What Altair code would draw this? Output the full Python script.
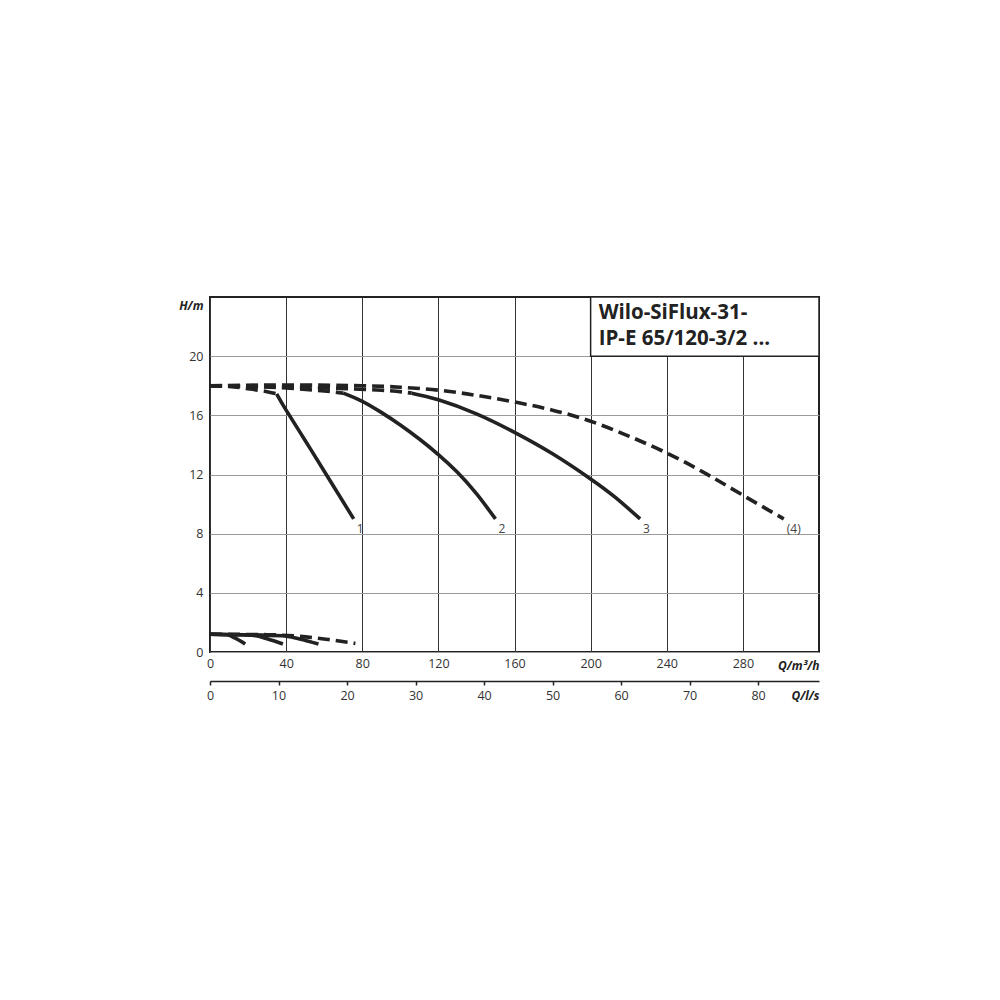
import altair as alt
import pandas as pd

# ---------------- data ----------------
# upper pump curves: Q in m3/h, H in m
q1_dash = [0, 10, 20, 30, 35]
h1_dash = [18.0, 17.95, 17.8, 17.6, 17.45]
q1 = [35, 40, 50, 60.6, 75.5]
h1 = [17.45, 16.35, 14.3, 12.1, 9.0]

q2_dash = [0, 20, 40, 60, 70]
h2_dash = [18.0, 17.95, 17.85, 17.65, 17.5]
q2 = [70, 80, 90, 100, 110, 120, 130, 140, 150]
h2 = [17.5, 16.95, 16.2, 15.35, 14.4, 13.35, 12.15, 10.7, 9.0]

q3_dash = [0, 30, 60, 90, 106]
h3_dash = [18.0, 17.95, 17.85, 17.7, 17.5]
q3 = [106, 120, 140, 160, 180, 200, 213, 226]
h3 = [17.5, 17.05, 16.1, 14.85, 13.4, 11.7, 10.45, 9.0]

q4 = [0, 40, 80, 100, 120, 140, 160, 180, 200, 220, 240, 260, 280, 301.5]
h4 = [18.0, 18.05, 18.0, 17.9, 17.7, 17.35, 16.9, 16.35, 15.6, 14.6, 13.45, 12.1, 10.6, 9.0]

# lower curves
ql1 = [0, 9, 13, 18.5]
hl1 = [1.2, 1.17, 0.95, 0.54]
ql2 = [0, 22, 30, 38.3]
hl2 = [1.2, 1.13, 0.9, 0.54]
ql3 = [0, 38, 47, 57]
hl3 = [1.2, 1.1, 0.88, 0.54]
ql4 = [0, 30, 47, 62, 76.4]
hl4 = [1.2, 1.17, 1.06, 0.85, 0.58]

curve_labels = ["1", "2", "3", "(4)"]

q_ticks = [0, 40, 80, 120, 160, 200, 240, 280]
ls_ticks = [0, 10, 20, 30, 40, 50, 60, 70, 80]
h_ticks = [0, 4, 8, 12, 16, 20]
q_max = 320
h_max = 24

title_lines = ["Wilo-SiFlux-31-", "IP-E 65/120-3/2 ..."]
box_q = [200, 320]
box_h = [20, 24]

# ---------------- tables ----------------
def table(specs):
    rows = []
    for name, qs, hs in specs:
        for i, (q, h) in enumerate(zip(qs, hs)):
            rows.append({"curve": name, "i": i, "Q": q, "H": h})
    return pd.DataFrame(rows)

upper_solid_df = table([("1", q1, h1), ("2", q2, h2), ("3", q3, h3)])
lower_solid_df = table([("l1", ql1, hl1), ("l2", ql2, hl2), ("l3", ql3, hl3)])
upper_dash_df = table([("1d", q1_dash, h1_dash), ("2d", q2_dash, h2_dash),
                       ("3d", q3_dash, h3_dash), ("4", q4, h4)])
lower_dash_df = table([("l4", ql4, hl4)])
label_df = pd.DataFrame({
    "label": curve_labels,
    "Q": [q1[-1], q2[-1], q3[-1], q4[-1]],
    "H": [h1[-1], h2[-1], h3[-1], h4[-1]],
})
box_df = pd.DataFrame({"Q": [box_q[0]], "q1": [box_q[1]],
                       "H": [box_h[0]], "h1": [box_h[1]]})
title_df = pd.DataFrame({"Q": [box_q[0]], "H": [box_h[1]],
                         "txt": ["\n".join(title_lines)]})
ls_df = pd.DataFrame({"Qls": ls_ticks})

FONT = "Open Sans"
W, H = 609, 355
INK = "#222222"

x_scale = alt.Scale(domain=[0, q_max], nice=False, zero=True)
y_scale = alt.Scale(domain=[0, h_max], nice=False, zero=True)

x_axis = alt.Axis(values=q_ticks, grid=True, gridColor="#333333", gridWidth=1,
                  domain=False, ticks=False, labelFontSize=12.5, labelColor="#333333",
                  labelFont=FONT, labelPadding=5, labelFlush=False,
                  title="Q/m³/h", titleFont=FONT, titleFontSize=12, titleFontStyle="italic",
                  titleFontWeight="bold", titleColor=INK, titleAlign="right",
                  titleBaseline="middle", titleX=W, titleY=13)
y_axis = alt.Axis(values=h_ticks, grid=True, gridColor="#9a9a9a", gridWidth=1.2,
                  domain=False, ticks=False, labelFontSize=12.5, labelColor="#333333",
                  labelFont=FONT, labelPadding=7, labelFlush=False,
                  title="H/m", titleFont=FONT, titleFontSize=12, titleFontStyle="italic",
                  titleFontWeight="bold", titleColor=INK, titleAngle=0, titleAlign="right",
                  titleBaseline="middle", titleX=-7, titleY=8)

X = alt.X("Q:Q", scale=x_scale, axis=x_axis)
Xn = alt.X("Q:Q", scale=x_scale, axis=None)
Y = alt.Y("H:Q", scale=y_scale, axis=y_axis)

def line(df, x_enc, dashed, interp):
    kw = dict(strokeWidth=3.6, color=INK, strokeCap="butt", strokeJoin="round",
              interpolate=interp)
    if dashed:
        kw["strokeDash"] = [12, 6]
    return alt.Chart(df).mark_line(**kw).encode(
        x=x_enc, y=Y, detail="curve:N", order="i:Q")

solid = line(upper_solid_df, X, False, "natural")
solid_low = line(lower_solid_df, Xn, False, "monotone")
dashed = line(upper_dash_df, Xn, True, "natural")
dashed_low = line(lower_dash_df, Xn, True, "monotone")

labels = alt.Chart(label_df).mark_text(font=FONT, fontSize=12, color="#444444",
                                       align="left", baseline="middle", dx=3, dy=10).encode(
    x=Xn, y=Y, text="label:N")

box = alt.Chart(box_df).mark_rect(fill="white", stroke=INK, strokeWidth=1.5).encode(
    x=Xn, x2="q1", y=Y, y2="h1")

title = alt.Chart(title_df).mark_text(font=FONT, fontSize=20.5, fontWeight="bold", color=INK,
                                      align="left", baseline="alphabetic", lineBreak="\n",
                                      lineHeight=26.7, dx=8, dy=21.5).encode(
    x=Xn, y=Y, text="txt:N")

sec = alt.Chart(ls_df).mark_point(opacity=0).encode(
    x=alt.X("Qls:Q", scale=alt.Scale(domain=[0, q_max / 3.6], nice=False, zero=True),
            axis=alt.Axis(orient="bottom", offset=29, values=ls_ticks, grid=False,
                          domain=True, domainColor=INK, domainWidth=1.5,
                          ticks=True, tickColor=INK, tickWidth=1.5, tickSize=4,
                          labelFontSize=12.5, labelColor="#333333", labelFont=FONT,
                          labelPadding=4, labelFlush=False,
                          title="Q/l/s", titleFont=FONT, titleFontSize=12,
                          titleFontStyle="italic", titleFontWeight="bold", titleColor=INK,
                          titleAlign="right", titleBaseline="middle", titleX=W, titleY=14)),
    y=alt.value(0))

chart = alt.layer(solid, solid_low, dashed, dashed_low, box, title, labels, sec).resolve_scale(
    x="independent"
).properties(
    width=W, height=H, autosize="none",
    padding={"left": 202, "top": 289, "right": 20, "bottom": 80},
).configure_view(stroke=INK, strokeWidth=2)

chart.save("out.html", embed_options={"renderer": "svg", "actions": False})
